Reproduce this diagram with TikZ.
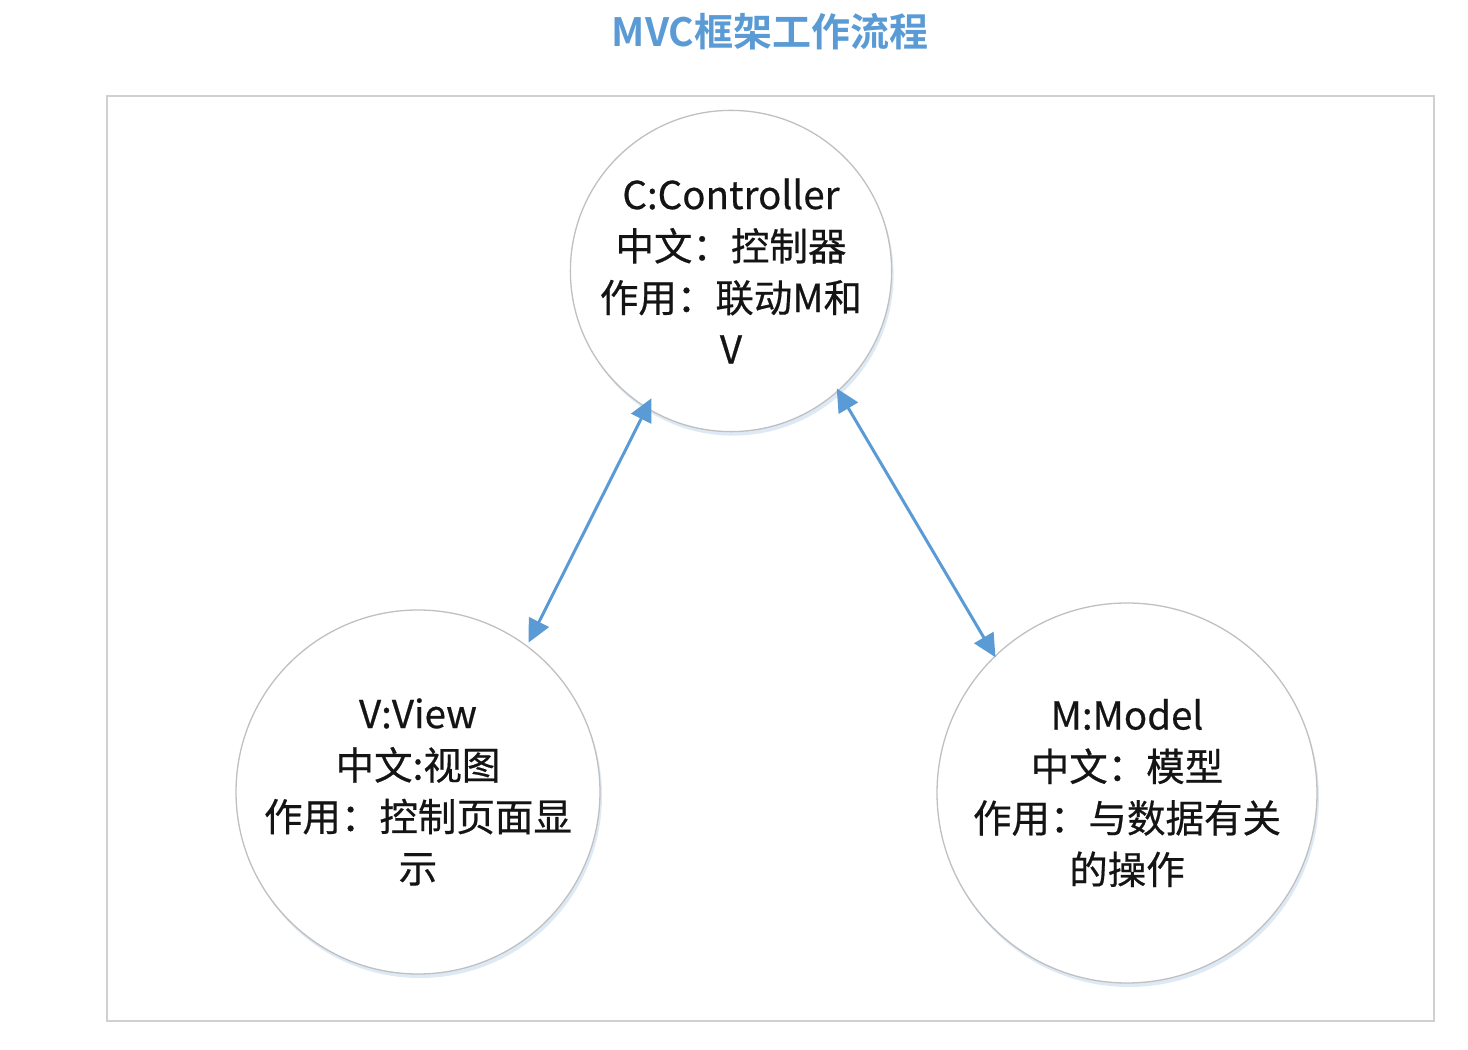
\documentclass[tikz,border=0pt]{standalone}
\usepackage{fontspec}
\setmainfont{Noto Sans CJK SC}
\newfontfamily\nodefont{Noto Sans CJK SC}[FakeBold=0.5]
\newfontfamily\titlefont{Noto Sans CJK SC Bold}
\usetikzlibrary{calc,arrows.meta,shadows}
\definecolor{mvcblue}{RGB}{91,155,213}
\definecolor{ringgray}{RGB}{192,192,192}
\definecolor{framegray}{RGB}{208,208,208}
\definecolor{shadowblue}{RGB}{218,231,245}
\definecolor{txt}{RGB}{20,20,20}
\tikzset{
  mvcnode/.style={circle, draw=ringgray, line width=1.3pt, fill=white, inner sep=0pt,
    align=center, text=txt, font=\nodefont\fontsize{38.5}{51.5}\selectfont,
    drop shadow={shadow xshift=2pt, shadow yshift=-4pt, fill=shadowblue, opacity=0.9}},
  link/.style={draw=mvcblue, line width=3pt, {Triangle[length=23pt,width=22pt]}-{Triangle[length=23pt,width=22pt]}},
  framebox/.style={draw=framegray, line width=2pt},
  titletext/.style={text=mvcblue, font=\titlefont\fontsize{39}{42}\selectfont}
}
\begin{document}
\begin{tikzpicture}[x=1pt,y=1pt]
\useasboundingbox (0,0) rectangle (1468,1050);
\node[titletext] (title) at (770,1018) {MVC框架工作流程};
\draw[framebox] (107,29) rectangle (1434,954);
\node[mvcnode, minimum size=318pt] (C) at (731,779) {C:Controller\\中文：控制器\\作用：联动M和\\V};
\node[mvcnode, minimum size=364pt] (V) at (418,258) {V:View\\中文:视图\\作用：控制页面显\\示};
\node[mvcnode, minimum size=380pt] (M) at (1127,257) {M:Model\\中文：模型\\作用：与数据有关\\的操作};
\draw[link] ($(C)+(-122:150)$) -- ($(V)+(53.5:186)$);
\draw[link] ($(C)+(-48:158)$) -- ($(M)+(134.1:189)$);
\end{tikzpicture}
\end{document}
